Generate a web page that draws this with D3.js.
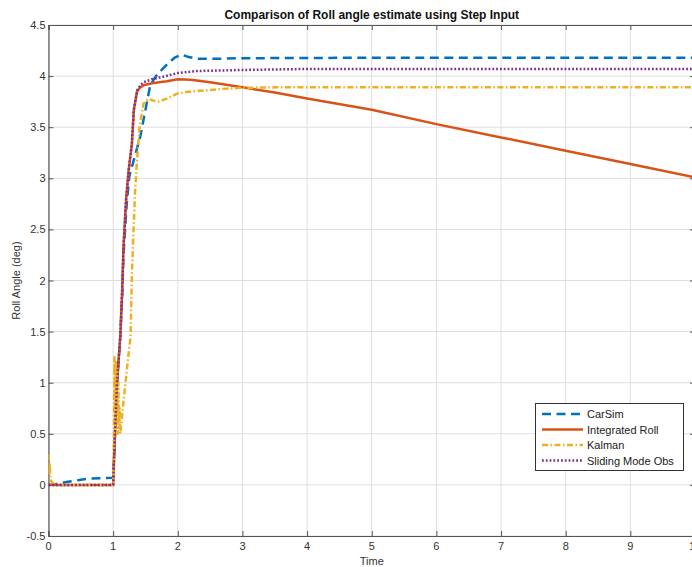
<!DOCTYPE html>
<html><head><meta charset="utf-8">
<script src="https://cdn.jsdelivr.net/npm/d3@7"></script>
<style>body{margin:0;background:#fff}svg{display:block}text{font-family:"Liberation Sans",Arial,sans-serif}</style>
</head><body><svg id="c" width="692" height="567"></svg>
<script>
const xTicks = [0,1,2,3,4,5,6,7,8,9,10];
const yTicks = [-0.5,0,0.5,1,1.5,2,2.5,3,3.5,4,4.5];
const seriesNames = ["CarSim","Integrated Roll","Kalman","Sliding Mode Obs"];

const carsimT = [0,0.1,0.2,0.3,0.4,0.5,0.6,0.8,1.0,1.03,1.06,1.11,1.14,1.16,1.21,1.25,1.32,1.42,1.5,1.57,1.63,1.7,1.78,1.86,1.95,2.06,2.15,2.3,2.6,3,5,10];
const carsimV = [0,0.005,0.02,0.03,0.04,0.05,0.06,0.065,0.07,0.5,1.0,1.45,1.85,2.25,2.75,3.02,3.18,3.41,3.67,3.90,3.97,4.03,4.08,4.13,4.18,4.21,4.19,4.17,4.17,4.175,4.18,4.18];

const integT = [0,1.0,1.03,1.06,1.11,1.14,1.16,1.2,1.24,1.29,1.32,1.37,1.42,1.47,1.6,1.83,2.0,2.2,2.5,3,3.5,4,5,6,7,8,9,10];
const integV = [0,0,0.54,1.0,1.45,1.91,2.33,2.79,3.08,3.34,3.67,3.85,3.89,3.91,3.93,3.95,3.97,3.965,3.94,3.89,3.84,3.78,3.67,3.53,3.40,3.27,3.14,3.01];

const kalmanT = [0,0.01,0.02,0.03,0.05,0.08,0.1,1.0,1.01,1.02,1.03,1.04,1.05,1.06,1.07,1.08,1.09,1.1,1.11,1.15,1.2,1.25,1.27,1.29,1.32,1.34,1.37,1.41,1.47,1.55,1.62,1.7,1.83,2.0,2.2,2.45,2.7,2.96,3.5,10];
const kalmanV = [0.3,0.1,0.22,0.05,0.03,0.01,0,0,0.35,1.25,0.55,1.2,0.6,1.15,0.5,1.0,0.6,0.75,0.5,0.75,1.05,1.35,1.45,2.07,2.56,2.89,3.18,3.51,3.73,3.78,3.76,3.75,3.78,3.83,3.85,3.86,3.875,3.885,3.89,3.89];

const smoT = [0,1.0,1.03,1.06,1.11,1.14,1.16,1.2,1.24,1.29,1.32,1.37,1.42,1.47,1.6,1.68,2.0,2.3,3,4,10];
const smoV = [0,0,0.54,1.0,1.45,1.91,2.33,2.79,3.08,3.34,3.67,3.86,3.91,3.94,3.97,3.98,4.03,4.05,4.06,4.07,4.07];

const colors = ["#0072BD","#D95319","#EDB120","#7E2F8E"];
const dashes = ["9,5.5", null, "6,2.5,1.5,2.5", "1.8,2"];

const L=48.5, R=695, T=25, B=536;
const svg = d3.select("#c");
const x = d3.scaleLinear().domain([0,10]).range([L,R]);
const y = d3.scaleLinear().domain([-0.5,4.5]).range([B,T]);

// grid
const g = svg.append("g");
g.selectAll("line.gx").data(xTicks).join("line")
  .attr("x1",d=>x(d)).attr("x2",d=>x(d)).attr("y1",T).attr("y2",B)
  .attr("stroke","#dedede").attr("stroke-width",1);
g.selectAll("line.gy").data(yTicks).join("line")
  .attr("y1",d=>y(d)).attr("y2",d=>y(d)).attr("x1",L).attr("x2",R)
  .attr("stroke","#dedede").attr("stroke-width",1);

// axes
const axCol="#555";
const bx = svg.append("g").attr("transform",`translate(0,${B})`)
  .call(d3.axisTop(x).tickValues(xTicks).tickSize(5).tickFormat(""));
const tx = svg.append("g").attr("transform",`translate(0,${T})`)
  .call(d3.axisBottom(x).tickValues(xTicks).tickSize(5).tickFormat(""));
const ly = svg.append("g").attr("transform",`translate(${L},0)`)
  .call(d3.axisRight(y).tickValues(yTicks).tickSize(5).tickFormat(""));
const ry = svg.append("g").attr("transform",`translate(${R},0)`)
  .call(d3.axisLeft(y).tickValues(yTicks).tickSize(5).tickFormat(""));
[bx,tx,ly,ry].forEach(a=>{a.selectAll("path").attr("stroke",axCol).attr("stroke-width",1.2);a.selectAll("line").attr("stroke",axCol);});

// tick labels
svg.append("g").selectAll("text").data(xTicks).join("text")
  .attr("x",d=>x(d)).attr("y",B+14).attr("text-anchor","middle")
  .attr("font-size",11).attr("fill","#333").text(d=>d);
svg.append("g").selectAll("text").data(yTicks).join("text")
  .attr("x",L-3).attr("y",d=>y(d)+4).attr("text-anchor","end")
  .attr("font-size",11).attr("fill","#333").text(d=>d);

// lines
svg.append("clipPath").attr("id","cp").append("rect").attr("x",L).attr("y",T).attr("width",R-L).attr("height",B-T);
const line = d3.line().x(d=>x(d[0])).y(d=>y(d[1]));
const series = [[carsimT,carsimV],[integT,integV],[kalmanT,kalmanV],[smoT,smoV]];
const lg = svg.append("g").attr("clip-path","url(#cp)");
series.forEach((s,i)=>{
  const pts = s[0].map((t,j)=>[t,s[1][j]]);
  lg.append("path").datum(pts).attr("d",line).attr("fill","none")
    .attr("stroke",colors[i]).attr("stroke-width",2.5)
    .attr("stroke-dasharray",dashes[i]).attr("stroke-linejoin","round");
});

// title & labels
svg.append("text").attr("x",(L+R)/2).attr("y",19).attr("text-anchor","middle")
  .attr("font-size",12).attr("font-weight","bold").attr("fill","#111")
  .text("Comparison of Roll angle estimate using Step Input");
svg.append("text").attr("x",(L+R)/2).attr("y",565).attr("text-anchor","middle")
  .attr("font-size",11).attr("fill","#333").text("Time");
svg.append("text").attr("transform",`translate(20,${(T+B)/2}) rotate(-90)`)
  .attr("text-anchor","middle").attr("font-size",11).attr("fill","#333").text("Roll Angle (deg)");

// legend
const lgd = svg.append("g");
lgd.append("rect").attr("x",535.5).attr("y",403.5).attr("width",148).attr("height",67)
  .attr("fill","#fff").attr("stroke","#333").attr("stroke-width",1);
seriesNames.forEach((n,i)=>{
  const yy = 414 + i*15.5;
  lgd.append("line").attr("x1",542).attr("x2",583).attr("y1",yy).attr("y2",yy)
    .attr("stroke",colors[i]).attr("stroke-width",2.5).attr("stroke-dasharray",dashes[i]);
  lgd.append("text").attr("x",587).attr("y",yy+4).attr("font-size",11).attr("fill","#222").text(n);
});
</script></body></html>
